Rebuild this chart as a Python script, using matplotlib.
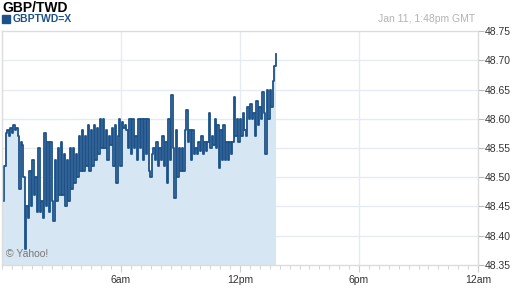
import numpy as np
import matplotlib
matplotlib.use("Agg")
import matplotlib.pyplot as plt
from matplotlib.ticker import MultipleLocator

plt.rcParams['font.family'] = ['Liberation Sans', 'DejaVu Sans']

# dados (GBP/TWD, 11 jan, horas GMT)
precos = [
    48.46, 48.52, 48.575, 48.58, 48.57, 48.585, 48.575, 48.59, 48.58, 48.585,
    48.57, 48.48, 48.56, 48.555, 48.50, 48.377, 48.45, 48.43, 48.51, 48.45,
    48.53, 48.47, 48.50, 48.44, 48.55, 48.44, 48.46, 48.43, 48.575, 48.45,
    48.56, 48.44, 48.56, 48.46, 48.425, 48.53, 48.46, 48.55, 48.47, 48.56,
    48.47, 48.54, 48.45, 48.53, 48.46, 48.55, 48.48, 48.55, 48.49, 48.54,
    48.50, 48.57, 48.51, 48.58, 48.51, 48.57, 48.52, 48.59, 48.51, 48.58,
    48.52, 48.59, 48.53, 48.585, 48.54, 48.60, 48.55, 48.60, 48.55, 48.58,
    48.53, 48.57, 48.555, 48.585, 48.52, 48.59, 48.49, 48.57, 48.60, 48.52,
    48.595, 48.585, 48.59, 48.58, 48.55, 48.60, 48.54, 48.60, 48.55, 48.57,
    48.53, 48.60, 48.55, 48.60, 48.53, 48.60, 48.54, 48.60, 48.51, 48.50,
    48.54, 48.55, 48.53, 48.56, 48.52, 48.55, 48.53, 48.57, 48.52, 48.56,
    48.49, 48.60, 48.53, 48.64, 48.55, 48.465, 48.58, 48.50, 48.55, 48.51,
    48.55, 48.51, 48.58, 48.615, 48.56, 48.58, 48.53, 48.58, 48.54, 48.55,
    48.54, 48.56, 48.545, 48.57, 48.54, 48.56, 48.545, 48.56, 48.61, 48.55,
    48.57, 48.555, 48.60, 48.55, 48.59, 48.516, 48.58, 48.53, 48.59, 48.53,
    48.56, 48.53, 48.56, 48.54, 48.56, 48.637, 48.57, 48.60, 48.56, 48.60,
    48.57, 48.61, 48.58, 48.57, 48.62, 48.60, 48.625, 48.60, 48.61, 48.57,
    48.63, 48.59, 48.62, 48.60, 48.645, 48.61, 48.54, 48.65, 48.60, 48.65,
    48.62, 48.665, 48.69, 48.71,
]
hora_inicio = 0.03
hora_fim = 13.8  # 1:48pm GMT

y_ticks = [48.35, 48.40, 48.45, 48.50, 48.55, 48.60, 48.65, 48.70, 48.75]
x_ticks = [6, 12, 18, 24]
x_labels = ['6am', '12pm', '6pm', '12am']

horas = np.linspace(hora_inicio, hora_fim, len(precos))

azul = '#1c5289'
cinza_borda = '#dcdcdc'

fig = plt.figure(figsize=(5.12, 2.88), dpi=100)
ax = fig.add_axes([2 / 512, 1 - 265 / 288, 476 / 512, 234 / 288])

ax.fill_between(horas, precos, 48.35, step='post', color='#d6e6f2', lw=0)
ax.plot(horas, precos, drawstyle='steps-post', color=azul, lw=1.3)

ax.set_xlim(0, 24)
ax.set_ylim(48.35, 48.75)

# grade
for v in y_ticks[1:-1]:
    ax.axhline(v, color='#e6ebf2', lw=1, zorder=0)
for h in x_ticks[:-1]:
    ax.axvline(h, color='#e6ebf2', lw=1, zorder=0)

ax.yaxis.tick_right()
ax.set_yticks(y_ticks)
ax.set_yticklabels(['%.2f' % v for v in y_ticks])
ax.tick_params(axis='y', length=4, color='#bbbbbb', labelsize=7.5,
               labelcolor='#333333', pad=1)

ax.set_xticks(x_ticks)
ax.set_xticklabels(x_labels)
ax.xaxis.set_minor_locator(MultipleLocator(0.5))
ax.tick_params(axis='x', which='major', length=5, color='#cccccc',
               labelsize=7.5, labelcolor='#333333', pad=2)
ax.tick_params(axis='x', which='minor', length=3, color='#cccccc')

for s in ax.spines.values():
    s.set_color(cinza_borda)
    s.set_linewidth(1)

# textos
fig.text(2 / 512, 1 - 8 / 288, 'GBP/TWD', fontsize=10, fontweight='bold',
         color='black', va='center', ha='left')
fig.patches.append(plt.Rectangle((2 / 512, 1 - 23 / 288), 8 / 512, 8 / 288,
                                 transform=fig.transFigure, color=azul))
fig.text(13 / 512, 1 - 19 / 288, 'GBPTWD=X', fontsize=7.5, fontweight='bold',
         color=azul, va='center', ha='left')
fig.text(475 / 512, 1 - 19 / 288, 'Jan 11, 1:48pm GMT', fontsize=7.5,
         color='#b3b3b3', va='center', ha='right')
fig.text(6 / 512, 1 - 254 / 288, '© Yahoo!', fontsize=7.5,
         color='#777777', va='center', ha='left')

fig.savefig('out.png', dpi=100)
